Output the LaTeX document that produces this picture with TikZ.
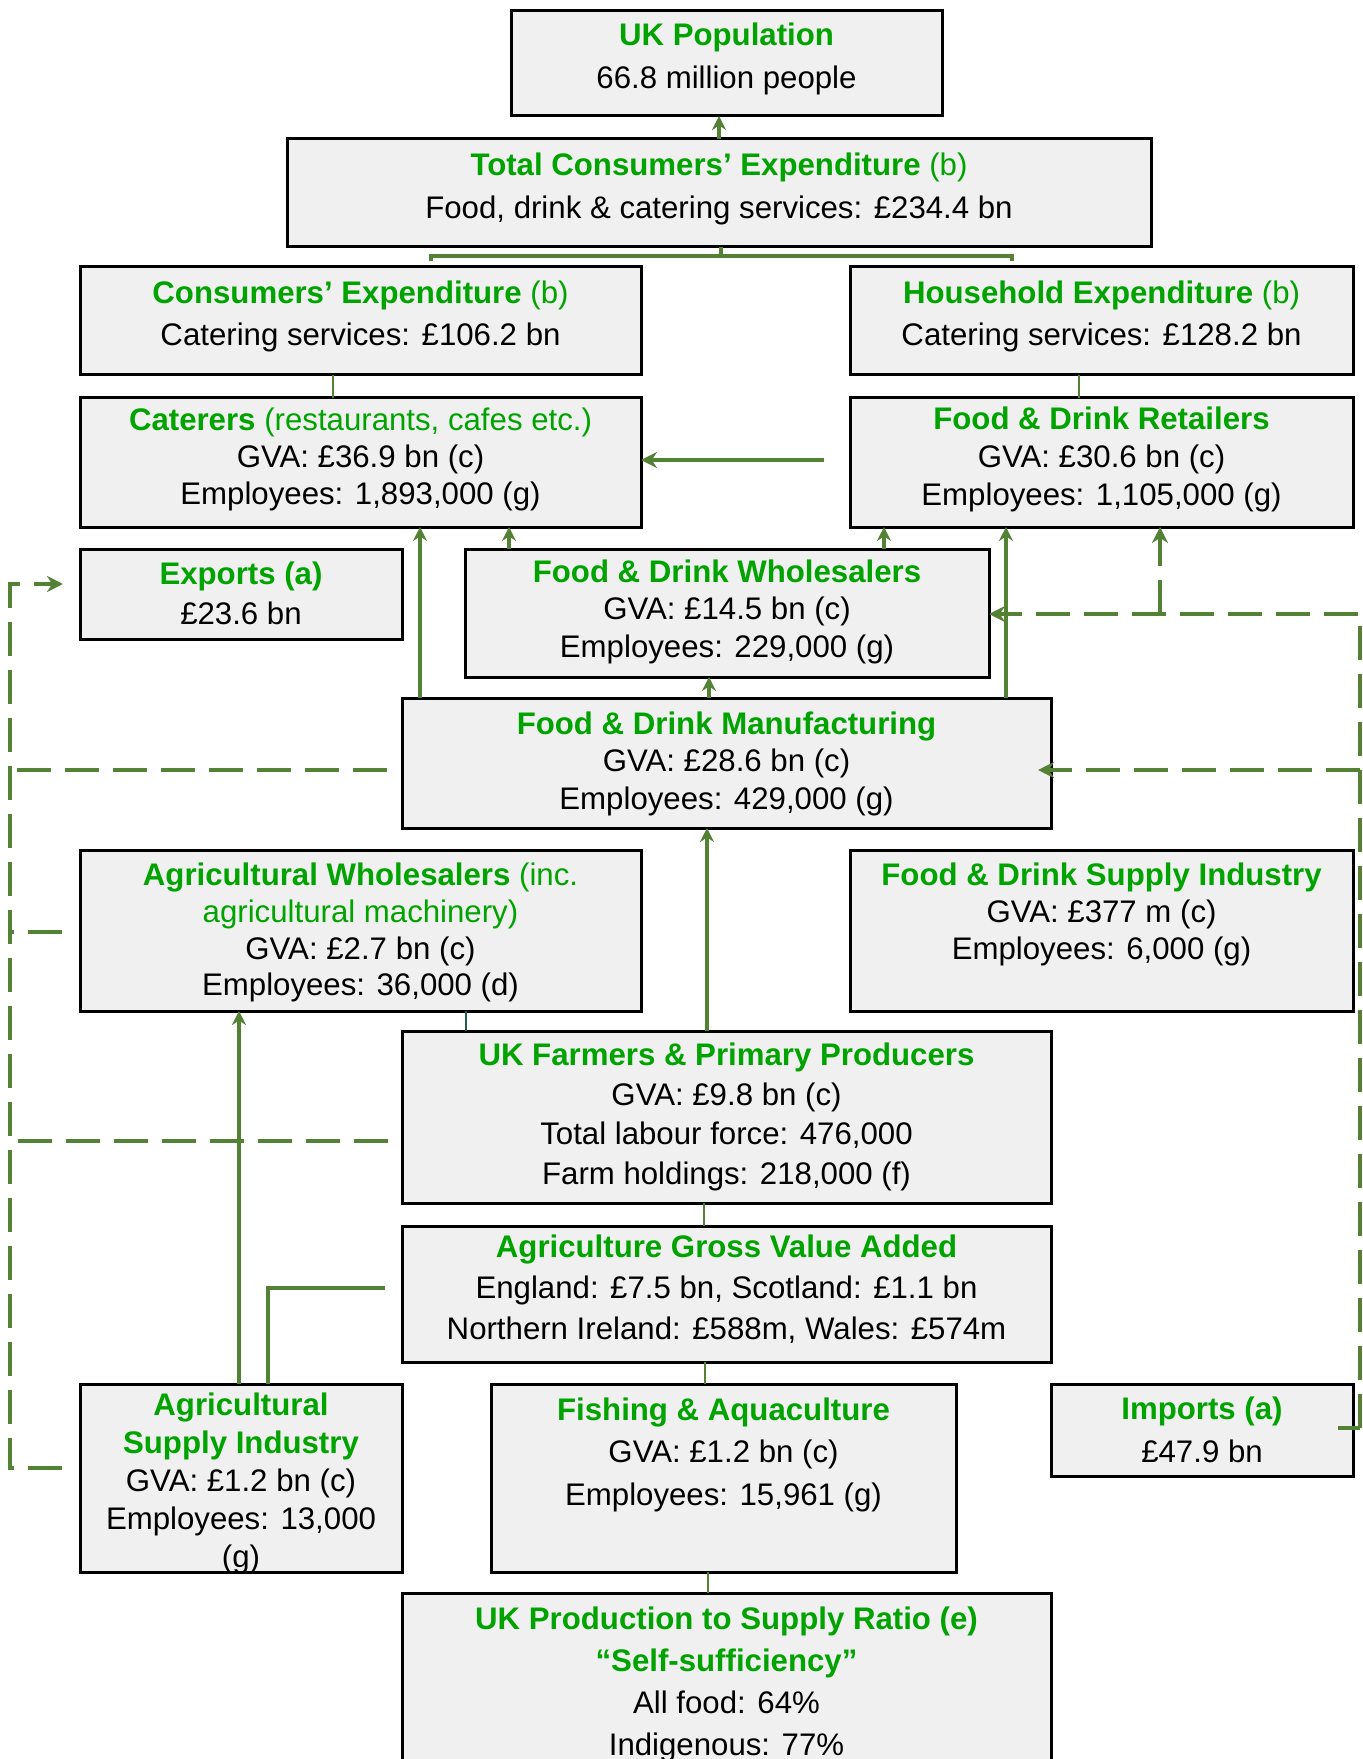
\documentclass[tikz,border=0pt]{standalone}
\usepackage{fontspec}
\setmainfont{Liberation Sans}
\usetikzlibrary{arrows.meta,calc}
\definecolor{cgreen}{HTML}{548235}
\definecolor{tgreen}{HTML}{00A300}
\definecolor{boxgrey}{HTML}{F0F0F0}
\definecolor{tealc}{HTML}{1F5F50}
\newcommand\ttl[1]{{\bfseries\color{tgreen}#1}}
\newcommand\grn[1]{{\color{tgreen}#1}}
\newcommand\tfirst{\rule{0pt}{12pt}}
\begin{document}
\begin{tikzpicture}[x=0.5pt,y=-0.5pt,
  box/.style={draw=black, line width=1.5pt, fill=boxgrey, inner sep=0pt, outer sep=0pt},
  tx/.style={inner sep=0pt, align=center, anchor=north, font=\fontsize{15.6pt}{#1}\selectfont},
  tx/.default=19pt,
  conn/.style={draw=cgreen, line width=1.4pt},
  arr/.style={draw=cgreen, line width=1.6pt, -{Stealth[length=7pt,width=7pt,inset=2.3pt]}},
  arrthick/.style={draw=cgreen, line width=2.4pt, -{Stealth[length=8pt,width=8pt,inset=2.6pt]}},
  dsh/.style={draw=cgreen, line width=2.3pt, dash pattern=on 17pt off 7pt},
  dsharr/.style={dsh, -{Stealth[length=8pt,width=8pt,inset=2.6pt]}},
  tealline/.style={draw=tealc, line width=1.4pt}
]
\useasboundingbox (0,0) rectangle (1362,1759);
\clip (0,0) rectangle (1362,1759);

% boxes
\node[box, minimum width=215.5pt, minimum height=52.5pt] (pop) at (726.5,63.5) {};
\node[box, minimum width=432pt, minimum height=54pt] (tce) at (719,193) {};
\node[box, minimum width=280.5pt, minimum height=54pt] (ce) at (360.5,321) {};
\node[box, minimum width=251.5pt, minimum height=54pt] (he) at (1101.5,321) {};
\node[box, minimum width=280.5pt, minimum height=64.5pt] (cat) at (360.5,462.5) {};
\node[box, minimum width=251.5pt, minimum height=64.5pt] (ret) at (1101.5,462.5) {};
\node[box, minimum width=161pt, minimum height=45pt] (exp) at (241,594) {};
\node[box, minimum width=262pt, minimum height=64pt] (whl) at (727,613) {};
\node[box, minimum width=324.5pt, minimum height=65pt] (mfg) at (726.5,763) {};
\node[box, minimum width=280.5pt, minimum height=80.5pt] (aw) at (360.5,930.5) {};
\node[box, minimum width=251.5pt, minimum height=80.5pt] (fds) at (1101.5,930.5) {};
\node[box, minimum width=324.5pt, minimum height=86pt] (farm) at (726.5,1117) {};
\node[box, minimum width=324.5pt, minimum height=68pt] (agva) at (726.5,1294) {};
\node[box, minimum width=161pt, minimum height=94pt] (asi) at (241,1478) {};
\node[box, minimum width=232.5pt, minimum height=94pt] (fish) at (723.5,1478) {};
\node[box, minimum width=151pt, minimum height=46pt] (imp) at (1202,1430) {};
\node[box, minimum width=324.5pt, minimum height=103.5pt] (prod) at (726.5,1696.5) {};

% texts
\node[tx=21.8pt] (popT) at (726.5,21) {\tfirst\ttl{UK Population}\\66.8 million people};
\node[tx=21.5pt] (tceT) at (719,151) {\tfirst\ttl{Total Consumers’ Expenditure} \grn{(b)}\\Food, drink \& catering services: £234.4 bn};
\node[tx=21pt] (ceT) at (360.5,279) {\tfirst\ttl{Consumers’ Expenditure} \grn{(b)}\\Catering services: £106.2 bn};
\node[tx=21pt] (heT) at (1101.5,279) {\tfirst\ttl{Household Expenditure} \grn{(b)}\\Catering services: £128.2 bn};
\node[tx=18.6pt] (catT) at (360.5,406) {\tfirst\ttl{Caterers} \grn{(restaurants, cafes etc.)}\\GVA: £36.9 bn (c)\\Employees: 1,893,000 (g)};
\node[tx=19pt] (retT) at (1101.5,405) {\tfirst\ttl{Food \& Drink Retailers}\\GVA: £30.6 bn (c)\\Employees: 1,105,000 (g)};
\node[tx=20pt] (expT) at (241,560) {\tfirst\ttl{Exports (a)}\\£23.6 bn};
\node[tx=18.75pt] (whlT) at (727,558) {\tfirst\ttl{Food \& Drink Wholesalers}\\GVA: £14.5 bn (c)\\Employees: 229,000 (g)};
\node[tx=18.75pt] (mfgT) at (726.5,710) {\tfirst\ttl{Food \& Drink Manufacturing}\\GVA: £28.6 bn (c)\\Employees: 429,000 (g)};
\node[tx=18.4pt] (awT) at (360.5,861) {\tfirst\ttl{Agricultural Wholesalers} \grn{(inc.}\\\grn{agricultural machinery)}\\GVA: £2.7 bn (c)\\Employees: 36,000 (d)};
\node[tx=18.5pt] (fdsT) at (1101.5,861) {\tfirst\ttl{Food \& Drink Supply Industry}\\GVA: £377 m (c)\\Employees: 6,000 (g)};
\node[tx=19.8pt] (farmT) at (726.5,1041) {\tfirst\ttl{UK Farmers \& Primary Producers}\\GVA: £9.8 bn (c)\\Total labour force: 476,000\\Farm holdings: 218,000 (f)};
\node[tx=20.5pt] (agvaT) at (726.5,1233) {\tfirst\ttl{Agriculture Gross Value Added}\\England: £7.5 bn, Scotland: £1.1 bn\\Northern Ireland: £588m, Wales: £574m};
\node[tx=19pt] (asiT) at (241,1391) {\tfirst\ttl{Agricultural}\\\ttl{Supply Industry}\\GVA: £1.2 bn (c)\\Employees: 13,000\\(g)};
\node[tx=21.25pt] (fishT) at (723.5,1396) {\tfirst\ttl{Fishing \& Aquaculture}\\GVA: £1.2 bn (c)\\Employees: 15,961 (g)};
\node[tx=21.5pt] (impT) at (1202,1395) {\tfirst\ttl{Imports (a)}\\£47.9 bn};
\node[tx=21pt] (prodT) at (726.5,1605) {\tfirst\ttl{UK Production to Supply Ratio (e)}\\\ttl{“Self-sufficiency”}\\All food: 64\%\\Indigenous: 77\%};

% coordinates
\coordinate (br) at (721,256);
\coordinate (brL) at (431,261);
\coordinate (brR) at (1012,261);
\coordinate (r2c) at (824,460);
\coordinate (q1) at (385,1288);
\coordinate (L) at (10,0);
\coordinate (R) at (1360,0);

% solid connectors
\draw[arr] (tce.north -| 719,0) -- (pop.south -| 719,0);
\draw[conn, line width=1.6pt] (tce.south -| br) -- (br);
\draw[conn, line width=1.6pt] (brL) -- (brL |- br) -- (brR |- br) -- (brR);
\draw[conn] (ce.south -| 333,0) -- (cat.north -| 333,0);
\draw[conn] (he.south -| 1079,0) -- (ret.north -| 1079,0);
\draw[arrthick] (r2c) -- (r2c -| cat.east);
\draw[arr] (mfg.north -| 420,0) -- (cat.south -| 420,0);
\draw[arr] (whl.north -| 509,0) -- (cat.south -| 509,0);
\draw[arr] (whl.north -| 884,0) -- (ret.south -| 884,0);
\draw[arr] (mfg.north -| 1006,0) -- (ret.south -| 1006,0);
\draw[arr] (mfg.north -| 709,0) -- (whl.south -| 709,0);
\draw[arr] (farm.north -| 707,0) -- (mfg.south -| 707,0);
\draw[tealline] (aw.south -| 466,0) -- (farm.north -| 466,0);
\draw[conn] (farm.south -| 704,0) -- (agva.north -| 704,0);
\draw[conn] (agva.south -| 705,0) -- (fish.north -| 705,0);
\draw[conn] (fish.south -| 708,0) -- (prod.north -| 708,0);
\draw[arr] (asi.north -| 239,0) -- (aw.south -| 239,0);
\draw[conn, line width=1.8pt] (asi.north -| 268,0) |- (q1);

% right dashed loop
\draw[conn, line width=2pt] ($(imp.east)+(-15,-2)$) coordinate (iR) -- (iR -| R);
\draw[dsharr] (iR -| R) -- (R |- 0,614) -- (whl.east |- 0,614);
\draw[dsharr] (R |- 0,770) -- ($(mfg.east)+(-13,7)$);
\draw[dsharr] (1160,614) -- (ret.south -| 1160,0);

% left dashed loop
\draw[dsh] ($(mfg.west)+(-15,7)$) coordinate (mL) -- (mL -| L);
\draw[dsh] ($(farm.west)+(-14,24)$) coordinate (fL) -- (fL -| L);
\draw[dsh] ($(aw.west)+(-18,1.5)$) coordinate (aL) -- (aL -| L);
\draw[dsharr] ($(asi.west)+(-18,-10)$) coordinate (sL) -- (sL -| L) -- (L |- 0,584) -- ($(exp.west)+(-17,-10)$);
\end{tikzpicture}
\end{document}
